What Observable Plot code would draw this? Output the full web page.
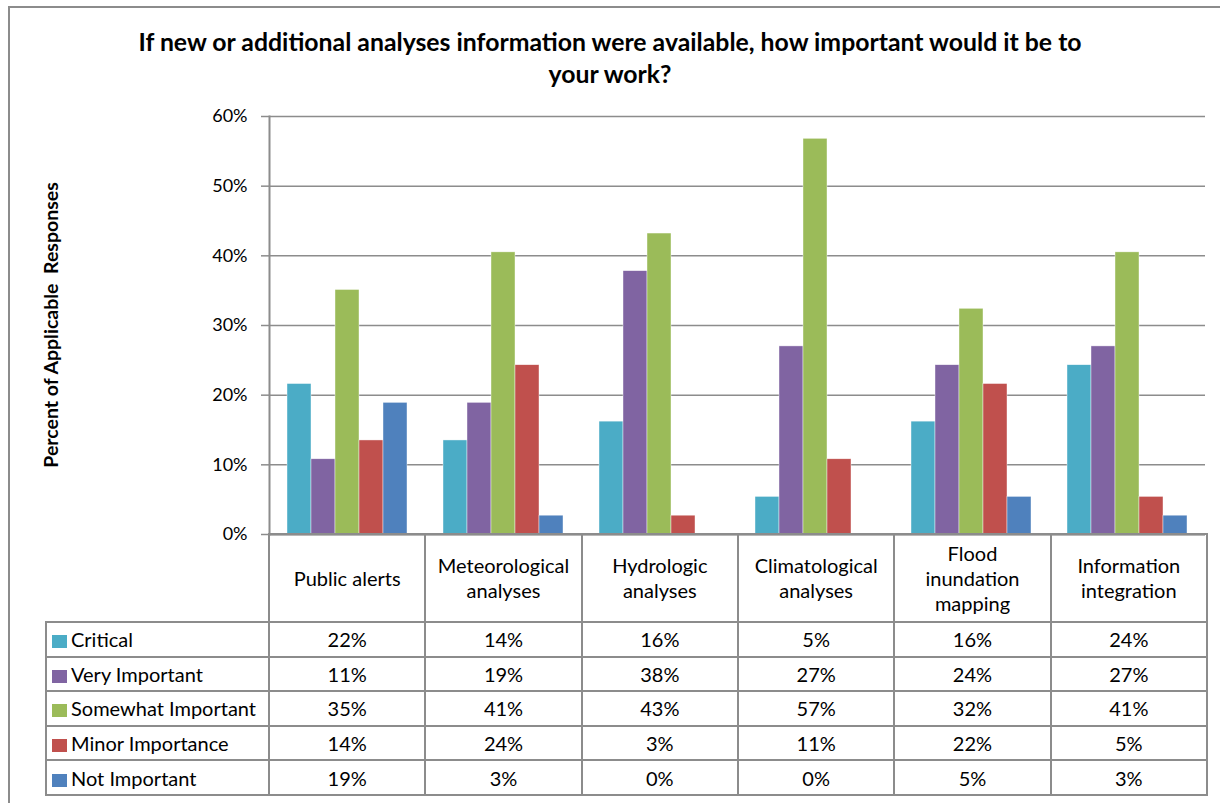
<!DOCTYPE html>
<html>
<head>
<meta charset="utf-8">
<script src="https://cdn.jsdelivr.net/npm/d3@7"></script>
<script src="https://cdn.jsdelivr.net/npm/@observablehq/plot@0.6"></script>
<style>
  html, body { margin: 0; padding: 0; background: #fff; }
  #chart { position: relative; width: 1220px; height: 803px; background: #fff; overflow: hidden; font-family: Lato, "Open Sans", sans-serif; color: #000; }
  #frame { position: absolute; left: 8px; top: 6px; width: 1230px; height: 820px; border-left: 2px solid #8c8c8c; border-top: 2px solid #8c8c8c; }
  #title { position: absolute; left: 0; top: 26px; width: 1220px; text-align: center; font-weight: bold; font-size: 24.8px; line-height: 32px; }
  #ylabel { position: absolute; left: 50px; top: 325px; transform: translate(-50%, -50%) rotate(-90deg); white-space: pre; font-weight: bold; font-size: 19.5px; }
  #plot { position: absolute; left: 0; top: 0; }
  #tbl { position: absolute; left: 45px; top: 533px; border-collapse: collapse; table-layout: fixed; width: 1161px; font-size: 20px; }
  #tbl td { border: 2px solid #8c8c8c; text-align: center; padding: 0; overflow: hidden; white-space: nowrap; }
  #tbl tr.head td { height: 86px; line-height: 25px; white-space: normal; vertical-align: middle; }
  #tbl tr.head td.blank { border-top: none; border-left: none; }
  #tbl tr.row td { height: 32.6px; }
  #tbl td.lab { text-align: left; padding-left: 5px; }
  .sw { display: inline-block; width: 15px; height: 13px; margin-right: 4px; vertical-align: -1px; }
</style>
</head>
<body>
<div id="chart">
  <div id="frame"></div>
  <div id="title"></div>
  <div id="ylabel"></div>
  <div id="plot"></div>
  <table id="tbl"></table>
</div>
<script>
const titleLines = ["If new or additional analyses information were available, how important would it be to", "your work?"];
const yLabel = "Percent of Applicable  Responses";
const categories = ["Public alerts", "Meteorological analyses", "Hydrologic analyses", "Climatological analyses", "Flood inundation mapping", "Information integration"];
const series = ["Critical", "Very Important", "Somewhat Important", "Minor Importance", "Not Important"];
const colors = ["#4BACC6", "#8064A2", "#9BBB59", "#C0504D", "#4F81BD"];
const critical          = [21.6, 13.5, 16.2, 5.4, 16.2, 24.3];
const veryImportant     = [10.8, 18.9, 37.8, 27.0, 24.3, 27.0];
const somewhatImportant = [35.1, 40.5, 43.2, 56.8, 32.4, 40.5];
const minorImportance   = [13.5, 24.3, 2.7, 10.8, 21.6, 5.4];
const notImportant      = [18.9, 2.7, 0, 0, 5.4, 2.7];
const yTicks = [0, 10, 20, 30, 40, 50, 60];

const seriesValues = [critical, veryImportant, somewhatImportant, minorImportance, notImportant];
const data = [];
categories.forEach((c, ci) => series.forEach((s, si) => data.push({category: c, series: s, value: seriesValues[si][ci]})));

document.getElementById("title").innerHTML = titleLines.join("<br>");
document.getElementById("ylabel").textContent = yLabel;

const plot = Plot.plot({
  width: 1220,
  height: 560,
  marginTop: 116,
  marginLeft: 268,
  marginRight: 15,
  marginBottom: 26,
  style: {fontFamily: "Lato, 'Open Sans', sans-serif", fontSize: "18px", color: "#000", background: "transparent"},
  fx: {domain: categories, padding: 0, axis: null},
  x: {domain: series, paddingInner: 0, paddingOuter: 0.75, axis: null},
  y: {domain: [0, 60], axis: null},
  color: {domain: series, range: colors},
  marks: [
    Plot.gridY(yTicks, {stroke: "#8c8c8c", strokeOpacity: 1, strokeWidth: 1.5}),
    Plot.barY(data, {fx: "category", x: "series", y: "value", fill: "series", stroke: "#fff", strokeWidth: 0.6, strokeOpacity: 0.7}),
    Plot.ruleY([0], {stroke: "#8c8c8c", strokeWidth: 2}),
    Plot.axisY(yTicks, {label: null, tickSize: 8, tickPadding: 14, tickFormat: d => d + "%", stroke: "#8c8c8c", strokeWidth: 1.5, fill: "#000", fontSize: 18}),
    Plot.frame({anchor: "left", facetAnchor: "left", stroke: "#8c8c8c", strokeWidth: 2})
  ]
});
document.getElementById("plot").appendChild(plot);

// data table
const tbl = document.getElementById("tbl");
const colg = document.createElement("colgroup");
const c0 = document.createElement("col"); c0.style.width = "223px"; colg.appendChild(c0);
categories.forEach(() => { const c = document.createElement("col"); c.style.width = ((1161 - 223) / categories.length) + "px"; colg.appendChild(c); });
tbl.appendChild(colg);
const head = document.createElement("tr"); head.className = "head";
const blank = document.createElement("td"); blank.className = "blank"; head.appendChild(blank);
const headWraps = {"Flood inundation mapping": "Flood<br>inundation<br>mapping"};
categories.forEach(c => {
  const td = document.createElement("td");
  if (headWraps[c]) td.innerHTML = headWraps[c];
  else { const p = c.split(" "); td.innerHTML = p.length > 1 && c !== "Public alerts" ? p[0] + "<br>" + p.slice(1).join(" ") : c; }
  head.appendChild(td);
});
tbl.appendChild(head);
series.forEach((s, si) => {
  const tr = document.createElement("tr"); tr.className = "row";
  const lab = document.createElement("td"); lab.className = "lab";
  const sw = document.createElement("span"); sw.className = "sw"; sw.style.background = colors[si];
  lab.appendChild(sw); lab.appendChild(document.createTextNode(s));
  tr.appendChild(lab);
  categories.forEach((c, ci) => {
    const td = document.createElement("td");
    td.textContent = Math.round(seriesValues[si][ci]) + "%";
    tr.appendChild(td);
  });
  tbl.appendChild(tr);
});
</script>
</body>
</html>
